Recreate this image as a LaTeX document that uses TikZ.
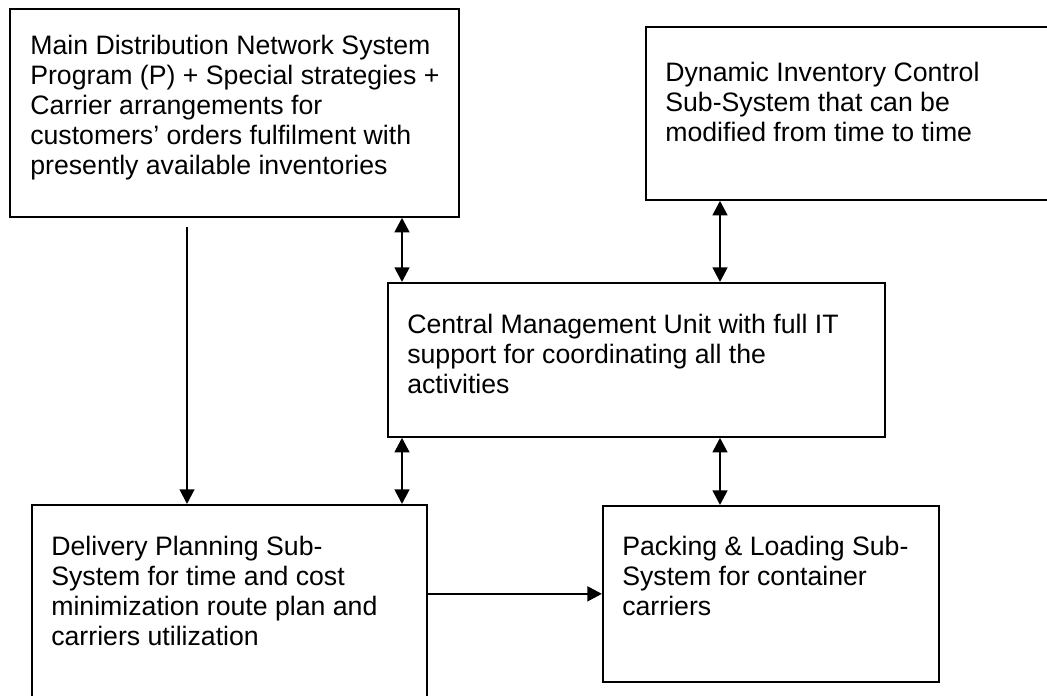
\documentclass[tikz,border=0pt]{standalone}
\usepackage{fontspec}
\setmainfont{Liberation Sans}
\usetikzlibrary{arrows.meta}

\begin{document}
\begin{tikzpicture}[x=0.75pt, y=-0.75pt, line width=2pt,
      every node/.append style={font=\fontsize{20}{22.5}\selectfont},
      >={Triangle[length=11pt,width=11pt]}]
      \tikzstyle{unit} = [draw, rectangle, anchor=north west, inner sep=0pt, line width=1.3pt]
      \tikzstyle{caption} = [anchor=north west, align=left, inner sep=0pt]
      \clip (0,0) rectangle (1047,696);
      % the five sub-system boxes
      \node (main) [unit, minimum width=336.75pt, minimum height=156pt] at (9,8) {};
      \node (inventory) [unit, minimum width=307.5pt, minimum height=129.75pt] at (645,26) {};
      \node (central) [unit, minimum width=372.75pt, minimum height=115.5pt] at (387,282) {};
      \node (delivery) [unit, minimum width=296.25pt, minimum height=157.5pt] at (31,504) {};
      \node (packing) [unit, minimum width=252pt, minimum height=132pt] at (602,505) {};
      % their texts
      \node (maintext) [caption] at ([shift={(20,25.5)}]main.north west)
        {Main Distribution Network System\\Program (P) + Special strategies +\\Carrier arrangements for\\customers' orders fulfilment with\\presently available inventories};
      \node (inventorytext) [caption] at ([shift={(19,34.5)}]inventory.north west)
        {Dynamic Inventory Control\\Sub-System that can be\\modified from time to time};
      \node (centraltext) [caption] at ([shift={(19,30.5)}]central.north west)
        {Central Management Unit with full IT\\support for coordinating all the\\activities};
      \node (deliverytext) [caption] at ([shift={(19,30.5)}]delivery.north west)
        {Delivery Planning Sub-\\System for time and cost\\minimization route plan and\\carriers utilization};
      \node (packingtext) [caption] at ([shift={(19,29.5)}]packing.north west)
        {Packing \& Loading Sub-\\System for container\\carriers};
      % links
      \coordinate (leftlink) at (402,0);
      \coordinate (rightlink) at (720,0);
      \coordinate (mainfoot) at (187,227);
      \draw[<->] (leftlink |- main.south) -- (leftlink |- central.north);
      \draw[<->] (rightlink |- inventory.south) -- (rightlink |- central.north);
      \draw[<->] (leftlink |- central.south) -- (leftlink |- delivery.north);
      \draw[<->] (rightlink |- central.south) -- (rightlink |- packing.north);
      \draw[->, line width=1.5pt] (mainfoot) -- (mainfoot |- delivery.north);
      \draw[->] (packing.west -| delivery.east) -- (packing.west);
\end{tikzpicture}
\end{document}
